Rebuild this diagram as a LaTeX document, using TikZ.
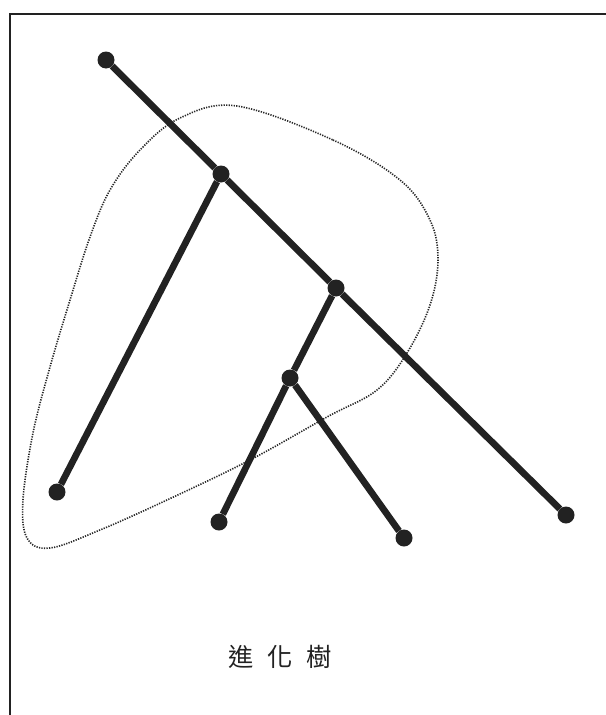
\documentclass[tikz,border=0pt]{standalone}
\usepackage{fontspec}
\usepackage{tikz}
\newfontfamily\cjk{Noto Sans CJK TC}
\definecolor{treeInk}{RGB}{34, 34, 34}
\definecolor{hullInk}{RGB}{40, 40, 40}

\begin{document}
\begin{tikzpicture}[x=0.05cm, y=-0.05cm,
    dot/.style={circle, fill=treeInk, inner sep=0pt, minimum size=0.85cm},
    branch/.style={treeInk, line width=9.5pt},
    hull/.style={hullInk, line width=2.3pt, dash pattern=on 1.8pt off 1.8pt}]
        \useasboundingbox (0,0) rectangle (606,715);
        \draw[treeInk, line width=2.6pt] (10,715) -- (10,14) -- (606,14);
        % the grouping outline
        \draw[hull] plot[smooth cycle, tension=0.6] coordinates {(237,106) (333,140) (400,180) (430,220) (438,260) (430,305) (407,353) (377,390) (327,417) (250,460) (167,500) (100,530) (50,548) (27,538) (23,500) (33,433) (50,367) (70,300) (90,237) (110,190) (140,150) (180,118)};
        \node[dot] (root) at (106,60) {};
        \node[dot] (splitA) at (221,174) {};
        \node[dot] (splitB) at (336,288) {};
        \node[dot] (splitC) at (290,378) {};
        \node[dot] (tipA) at (57,492) {};
        \node[dot] (tipB) at (219,522) {};
        \node[dot] (tipC) at (404,538) {};
        \node[dot] (tipD) at (566,515) {};
        \draw[branch] (root) -- (splitA);
        \draw[branch] (splitA) -- (splitB);
        \draw[branch] (splitB) -- (tipD);
        \draw[branch] (splitA) -- (tipA);
        \draw[branch] (splitB) -- (splitC);
        \draw[branch] (splitC) -- (tipB);
        \draw[branch] (splitC) -- (tipC);
        \node[font=\cjk\fontsize{36pt}{40pt}\selectfont, text=treeInk] (title) at (280,657) {進\hspace{0.55em}化\hspace{0.55em}樹};
      \end{tikzpicture}
\end{document}
